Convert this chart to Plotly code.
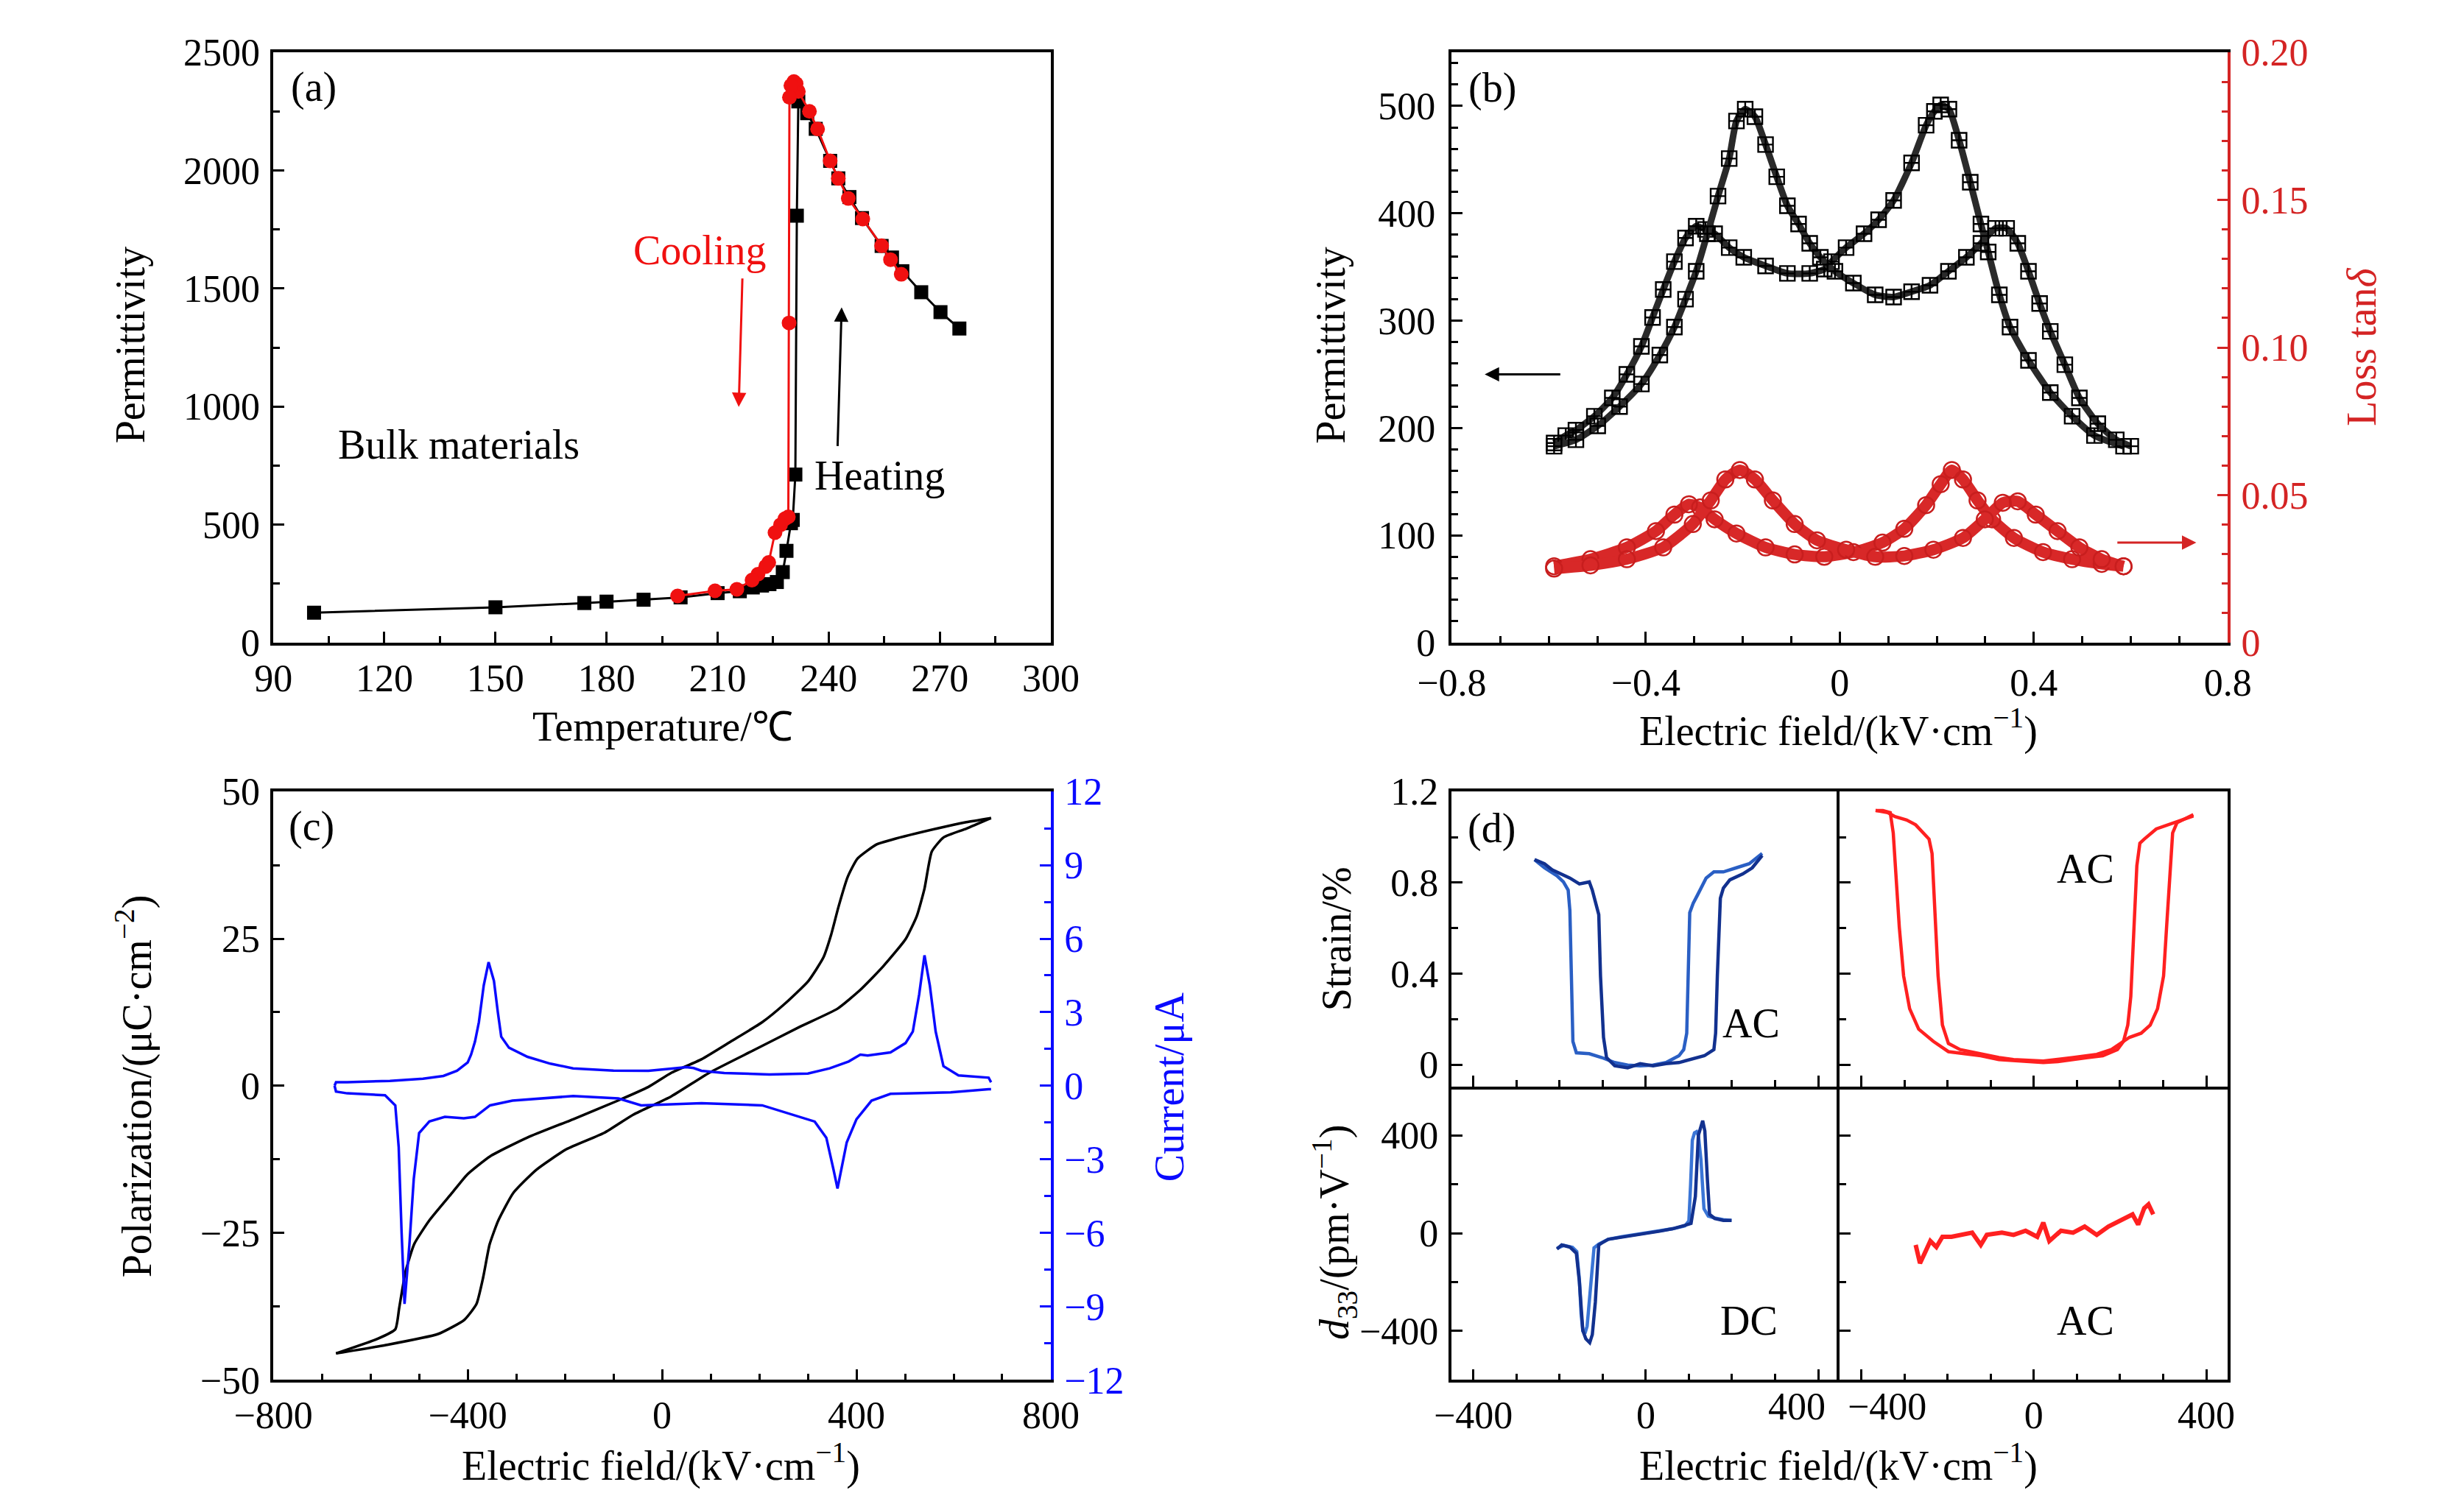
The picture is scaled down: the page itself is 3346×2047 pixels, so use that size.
import plotly.graph_objects as go

# ---------------- Panel (a): permittivity vs temperature ----------------
A_XTICKS = [90, 120, 150, 180, 210, 240, 270, 300]
A_YTICKS = [0, 500, 1000, 1500, 2000, 2500]
HEAT_T = [101, 150, 174, 180, 190, 200, 210, 216, 219.5, 222, 224, 226, 227.6, 228.6, 229.8, 230.3, 231, 231.4,
          231.8, 234.2, 236.5, 240.4, 242.6, 245.6, 249, 254.3, 257.1, 259.9, 265, 270.2, 275.3]
HEAT_P = [127, 150, 168, 174, 182, 192, 210, 218, 234, 242, 248, 257, 299, 389, 506, 520, 712, 1808,
          2292, 2242, 2176, 2040, 1966, 1887, 1798, 1680, 1631, 1573, 1484, 1400, 1330]
COOL_T = [259.6, 256.7, 254.3, 249.2, 245.3, 242.6, 240.4, 237.0, 234.8, 231.8, 231.2, 230.6, 229.8, 229.4,
          229.3, 229.1, 228.2, 227.0, 225.5, 223.8, 223.0, 220.9, 219.3, 215.2, 209.3, 199.2]
COOL_P = [1560, 1622, 1681, 1794, 1881, 1966, 2040, 2175, 2250, 2334, 2367, 2376, 2359, 2309,
          1354, 533, 525, 499, 466, 340, 323, 290, 265, 226, 220, 198]

# ---------------- Panel (b): permittivity & loss vs field ----------------
B_XTICKS = [-0.8, -0.4, 0, 0.4, 0.8]
B_YTICKS = [0, 100, 200, 300, 400, 500]
B_Y2TICKS = [0, 0.05, 0.10, 0.15, 0.20]
B_Y2LABELS = ["0", "0.05", "0.10", "0.15", "0.20"]
PERM1_E = [-0.589, -0.565, -0.544, -0.506, -0.469, -0.439, -0.409, -0.386, -0.364, -0.341, -0.318, -0.296,
           -0.277, -0.258, -0.228, -0.198, -0.153, -0.108, -0.062, -0.032, -0.017, 0.013, 0.05, 0.08, 0.111,
           0.148, 0.178, 0.195, 0.208, 0.225, 0.246, 0.269, 0.291, 0.306, 0.329, 0.351, 0.389, 0.434, 0.479,
           0.525, 0.585]
PERM1_V = [186, 193, 198, 211, 228, 250, 276, 303, 329, 355, 377, 388,
           385, 381, 368, 359, 351, 344, 344, 348, 355, 368, 381, 394, 412,
           447, 482, 495, 501, 497, 468, 429, 390, 364, 324, 294, 263, 233, 211,
           193, 183]
PERM2_E = [-0.589, -0.544, -0.499, -0.454, -0.409, -0.371, -0.341, -0.318, -0.296, -0.273, -0.251, -0.228,
           -0.213, -0.195, -0.175, -0.153, -0.130, -0.108, -0.085, -0.062, -0.040, -0.010, 0.028, 0.073,
           0.111, 0.148, 0.186, 0.224, 0.261, 0.291, 0.321, 0.344, 0.367, 0.389, 0.412, 0.434, 0.464,
           0.494, 0.532, 0.570, 0.600]
PERM2_V = [183, 189, 202, 220, 241, 268, 294, 320, 346, 381, 416, 451,
           486, 497, 490, 464, 434, 407, 390, 372, 359, 346, 335, 324,
           322, 327, 333, 346, 359, 372, 386, 386, 372, 346, 316, 290, 259,
           228, 204, 189, 183]
LOSS1_E = [-0.589, -0.514, -0.439, -0.379, -0.341, -0.311, -0.288, -0.258, -0.213, -0.153, -0.093, -0.032,
           0.028, 0.088, 0.133, 0.178, 0.208, 0.231, 0.254, 0.284, 0.314, 0.359, 0.419, 0.479, 0.540, 0.585]
LOSS1_V = [0.0259, 0.0283, 0.0323, 0.0378, 0.0434, 0.0469, 0.0458, 0.0418, 0.0370, 0.0323, 0.0299, 0.0291,
           0.0307, 0.0339, 0.0386, 0.0466, 0.0537, 0.0585, 0.0553, 0.0482, 0.0418, 0.0355, 0.0307, 0.0283,
           0.0267, 0.0259]
LOSS2_E = [-0.589, -0.514, -0.439, -0.364, -0.303, -0.266, -0.236, -0.206, -0.175, -0.138, -0.093, -0.047,
           0.013, 0.073, 0.133, 0.193, 0.254, 0.299, 0.336, 0.367, 0.404, 0.449, 0.494, 0.540, 0.585]
LOSS2_V = [0.0251, 0.0262, 0.0283, 0.0323, 0.0402, 0.0482, 0.0553, 0.0585, 0.0553, 0.0482, 0.0402, 0.0347,
           0.0315, 0.0291, 0.0294, 0.0315, 0.0355, 0.0418, 0.0474, 0.0479, 0.0434, 0.0378, 0.0323, 0.0283,
           0.0259]

# ---------------- Panel (c): P-E loop and current ----------------
C_XTICKS = [-800, -400, 0, 400, 800]
C_YTICKS = [-50, -25, 0, 25, 50]
C_Y2TICKS = [-12, -9, -6, -3, 0, 3, 6, 9, 12]
PE_DOWN_E = [677, 626, 565, 472, 441, 402, 382, 363, 348, 332, 301, 252, 206, 143, 81, 19, -28, -90, -183,
             -277, -354, -401, -432, -479, -510, -528, -541, -549, -585, -671]
PE_DOWN_P = [45.5, 44.8, 43.7, 41.8, 41.0, 38.6, 35.5, 30.4, 25.7, 21.8, 17.8, 13.9, 10.8, 7.6, 4.5, 2.2,
             -0.2, -2.5, -5.7, -8.8, -12.0, -15.1, -18.2, -22.9, -26.9, -31.6, -37.8, -41.4, -43.0, -45.5]
PE_UP_E = [-671, -570, -461, -407, -382, -368, -355, -337, -306, -259, -197, -119, -59, 19, 97, 190, 283,
           361, 408, 454, 501, 524, 540, 555, 579, 626, 677]
PE_UP_P = [-45.5, -44.1, -42.2, -39.8, -37.1, -32.5, -27.0, -22.9, -18.2, -14.3, -10.8, -8.0, -4.9, -1.8,
           2.2, 6.1, 10.0, 13.1, 16.3, 20.2, 24.9, 28.8, 33.5, 39.8, 42.2, 43.7, 45.5]
CUR_UP_E = [-674, -671, -648, -560, -492, -450, -422, -400, -393, -385, -377, -367, -357, -346, -338, -331,
            -315, -277, -230, -183, -100, -28, 20, 50, 65, 81, 128, 221, 300, 345, 384, 408, 423, 470, 501,
            516, 529, 540, 551, 563, 579, 610, 672, 677]
CUR_UP_I = [0.0, 0.14, 0.14, 0.2, 0.29, 0.4, 0.61, 0.95, 1.27, 1.8, 2.59, 4.09, 5.04, 4.28, 3.0, 2.0,
            1.55, 1.18, 0.9, 0.71, 0.62, 0.61, 0.7, 0.76, 0.72, 0.61, 0.52, 0.46, 0.5, 0.71, 0.99, 1.27,
            1.23, 1.36, 1.74, 2.21, 3.72, 5.32, 4.09, 2.21, 0.8, 0.42, 0.33, 0.14]
CUR_DOWN_E = [677, 672, 594, 470, 431, 400, 380, 369, 361, 353, 338, 314, 268, 206, 81, 3, -43, -90, -183,
              -308, -354, -385, -408, -447, -479, -500, -511, -520, -526, -530, -536, -542, -549, -570,
              -648, -671, -674]
CUR_DOWN_I = [-0.14, -0.14, -0.27, -0.33, -0.61, -1.37, -2.31, -3.44, -4.19, -3.44, -2.12, -1.46, -1.18,
              -0.8, -0.71, -0.76, -0.8, -0.52, -0.42, -0.61, -0.8, -1.27, -1.33, -1.27, -1.46, -1.93, -3.8,
              -6.5, -8.0, -8.9, -6.0, -2.5, -0.8, -0.39, -0.31, -0.24, 0.0]

# ---------------- Panel (d): strain and d33 ----------------
D_XTICKS = [-400, 0, 400]
D_XLABELS_LEFT = ["−400", "0", ""]      # the inner "400" is drawn nudged left (as in the reference)
D_XLABELS_RIGHT = ["", "0", "400"]      # the inner "−400" is drawn nudged right
D_INNER_LABELS = ["400", "−400"]
D_STRAIN_TICKS = [0, 0.4, 0.8, 1.2]
D_D33_TICKS = [-400, 0, 400]
SB_DOWN_E = [270, 240, 210, 180, 158, 140, 121, 110, 102, 99, 95, 88, 77, 47, 17, -13, -42, -72, -102, -131,
             -161, -169, -172, -176, -180, -191, -206, -221, -235, -258]
SB_DOWN_S = [0.928, 0.883, 0.865, 0.847, 0.847, 0.820, 0.749, 0.709, 0.668, 0.390, 0.138, 0.066, 0.039,
             0.009, -0.002, -0.005, -0.002, 0.009, 0.031, 0.048, 0.052, 0.102, 0.390, 0.677, 0.767, 0.803,
             0.830, 0.847, 0.865, 0.901]
SB_UP_E = [-258, -235, -217, -198, -176, -154, -131, -124, -109, -105, -98, -91, -72, -42, -13, 17, 47, 77,
           106, 136, 158, 162, 166, 173, 180, 195, 225, 247, 270]
SB_UP_S = [0.901, 0.883, 0.856, 0.838, 0.820, 0.794, 0.803, 0.767, 0.659, 0.390, 0.120, 0.031, -0.005,
           -0.014, 0.004, -0.005, 0.004, 0.009, 0.022, 0.039, 0.066, 0.138, 0.390, 0.731, 0.776, 0.812,
           0.838, 0.865, 0.919]
SR_DOWN_E = [370, 339, 311, 284, 256, 246, 239, 232, 225, 218, 208, 194, 160, 125, 91, 56, 22, -12, -47, -81,
             -123, -157, -198, -233, -267, -288, -302, -312, -319, -326, -333, -350, -367]
SR_DOWN_S = [1.093, 1.072, 1.054, 1.036, 0.991, 0.973, 0.874, 0.569, 0.300, 0.174, 0.102, 0.066, 0.039,
             0.031, 0.022, 0.013, 0.009, 0.013, 0.016, 0.022, 0.039, 0.048, 0.057, 0.102, 0.156, 0.246,
             0.390, 0.605, 0.838, 1.018, 1.108, 1.117, 1.117]
SR_UP_E = [-367, -339, -322, -295, -274, -253, -243, -236, -229, -222, -212, -198, -171, -123, -81, -47, 22,
           91, 146, 180, 201, 222, 249, 270, 287, 301, 308, 315, 322, 332, 353, 370]
SR_UP_S = [1.117, 1.108, 1.090, 1.075, 1.054, 1.009, 0.991, 0.928, 0.659, 0.390, 0.174, 0.093, 0.066, 0.048,
           0.031, 0.022, 0.016, 0.031, 0.045, 0.066, 0.093, 0.120, 0.138, 0.174, 0.246, 0.390, 0.605,
           0.838, 1.018, 1.063, 1.081, 1.099]
DB_1_E = [-206, -190, -170, -160, -154, -150, -146, -141, -136, -130, -120, -109, -87, -57, -27, 2, 32, 62,
          91, 100, 104, 108, 113, 118, 122, 128, 135, 145, 160, 180, 199]
DB_1_D = [-62, -50, -58, -75, -190, -330, -400, -410, -380, -250, -60, -45, -25, -15, -7, 2, 10, 18,
          30, 50, 200, 380, 410, 415, 400, 300, 100, 70, 62, 55, 52]
DB_2_E = [199, 180, 160, 148, 143, 137, 132, 127, 122, 115, 105, 91, 62, 32, 2, -27, -57, -87, -102, -109,
          -117, -124, -130, -135, -139, -146, -154, -161, -176, -195, -206]
DB_2_D = [52, 52, 60, 77, 218, 418, 460, 430, 400, 150, 40, 32, 18, 8, 0, -8, -16, -25, -40, -48,
          -282, -415, -448, -440, -432, -398, -198, -82, -57, -48, -65]
DR_E = [-274, -264, -253, -240, -226, -212, -191, -171, -143, -123, -109, -74, -47, -19, 8, 22, 36, 63, 91,
        118, 146, 173, 201, 229, 242, 256, 266, 277]
DR_D = [-48, -123, -82, -32, -57, -15, -15, -7, 2, -48, -7, 2, -7, 10, -15, 43, -32, 10, 2,
        27, -7, 27, 52, 77, 35, 102, 118, 77]

# ---------------- layout helpers ----------------
W, H = 3346, 2047


def px(x):
    return x / W


def py(y):
    return 1 - y / H


FONT = "Liberation Serif"
TICK = 52
TITLE = 56
RED_A = "#f01010"
RED_B = "#d82828"
BLUE_C = "#0a0aff"

XA = [px(318), px(1404)]
XB = [px(1964), px(3048)]
XDL = [px(1964), px(2506)]
XDR = [px(2506), px(3048)]
YAB = [py(861), py(36)]
YCD = [py(1891), py(1069)]
YDT = [py(1481), py(1069)]
YDB = [py(1891), py(1481)]


def ax(color="black", minor=None, standoff=0, **kw):
    d = dict(showgrid=False, zeroline=False, showline=True, linecolor=color, linewidth=3.5,
             ticks="inside", ticklen=15, tickwidth=3, tickcolor=color, mirror=True,
             tickfont=dict(family=FONT, size=TICK, color=color), ticklabelstandoff=standoff)
    if minor is not None:
        d["minor"] = dict(ticks="inside", ticklen=9, tickwidth=3, tickcolor=color, dtick=minor)
    d.update(kw)
    return d


def xax(standoff=0, **kw):
    return ax(standoff=standoff, **kw)


def yax(standoff=4, **kw):
    return ax(standoff=standoff, **kw)


fig = go.Figure()

# (a)
fig.add_trace(go.Scatter(x=HEAT_T, y=HEAT_P, mode="lines+markers", xaxis="x", yaxis="y",
                         line=dict(color="black", width=3),
                         marker=dict(symbol="square", size=19, color="black")))
fig.add_trace(go.Scatter(x=COOL_T, y=COOL_P, mode="lines+markers", xaxis="x", yaxis="y",
                         line=dict(color=RED_A, width=3),
                         marker=dict(symbol="circle", size=20, color=RED_A)))

# (b)
for e, v in [(PERM1_E, PERM1_V), (PERM2_E, PERM2_V)]:
    fig.add_trace(go.Scatter(x=e, y=v, mode="lines+markers", xaxis="x2", yaxis="y2",
                             line=dict(color="#2a2a2a", width=9, shape="spline", smoothing=0.6),
                             marker=dict(symbol="square-cross-open", size=20, color="black",
                                         line=dict(width=2.4, color="black"))))
for e, v in [(LOSS1_E, LOSS1_V), (LOSS2_E, LOSS2_V)]:
    fig.add_trace(go.Scatter(x=e, y=v, mode="lines+markers", xaxis="x2", yaxis="y3",
                             line=dict(color=RED_B, width=15, shape="spline", smoothing=0.6),
                             marker=dict(symbol="circle-open", size=22, color="#c81e1e",
                                         line=dict(width=2.5, color="#c81e1e"))))

# (c)
for e, p in [(PE_DOWN_E, PE_DOWN_P), (PE_UP_E, PE_UP_P)]:
    fig.add_trace(go.Scatter(x=e, y=p, mode="lines", xaxis="x3", yaxis="y4",
                             line=dict(color="black", width=3.5, shape="spline", smoothing=0.5)))
for e, i in [(CUR_UP_E, CUR_UP_I), (CUR_DOWN_E, CUR_DOWN_I)]:
    fig.add_trace(go.Scatter(x=e, y=i, mode="lines", xaxis="x3", yaxis="y5",
                             line=dict(color=BLUE_C, width=3.5)))

# (d)
fig.add_trace(go.Scatter(x=SB_DOWN_E, y=SB_DOWN_S, mode="lines", xaxis="x4", yaxis="y6",
                         line=dict(color="#2a5fc4", width=4.5)))
fig.add_trace(go.Scatter(x=SB_UP_E, y=SB_UP_S, mode="lines", xaxis="x4", yaxis="y6",
                         line=dict(color="#12318f", width=4.5)))
fig.add_trace(go.Scatter(x=SR_DOWN_E, y=SR_DOWN_S, mode="lines", xaxis="x5", yaxis="y7",
                         line=dict(color="#ff2020", width=4.5)))
fig.add_trace(go.Scatter(x=SR_UP_E, y=SR_UP_S, mode="lines", xaxis="x5", yaxis="y7",
                         line=dict(color="#ff2020", width=4.5)))
fig.add_trace(go.Scatter(x=DB_1_E, y=DB_1_D, mode="lines", xaxis="x6", yaxis="y8",
                         line=dict(color="#3a75d6", width=4.5)))
fig.add_trace(go.Scatter(x=DB_2_E, y=DB_2_D, mode="lines", xaxis="x6", yaxis="y8",
                         line=dict(color="#12318f", width=4.5)))
fig.add_trace(go.Scatter(x=DR_E, y=DR_D, mode="lines", xaxis="x7", yaxis="y9",
                         line=dict(color="#ff2020", width=6)))

layout = dict(
    width=W, height=H, margin=dict(l=0, r=0, t=0, b=0),
    paper_bgcolor="white", plot_bgcolor="white", showlegend=False,
    font=dict(family=FONT, size=TICK, color="black"),
    # (a)
    xaxis=xax(domain=XA, anchor="y", range=[90, 300], tickvals=A_XTICKS, minor=15),
    yaxis=yax(domain=YAB, anchor="x", range=[0, 2500], tickvals=A_YTICKS, minor=250),
    # (b)
    xaxis2=xax(standoff=6, domain=XB, anchor="y2", range=[-0.8, 0.8], tickvals=B_XTICKS, minor=0.1),
    yaxis2=yax(standoff=8, domain=YAB, anchor="x2", range=[0, 550], tickvals=B_YTICKS, minor=20,
               mirror=False),
    yaxis3=yax(color="#d42424", overlaying="y2", side="right", anchor="x2", range=[0, 0.2],
               tickvals=B_Y2TICKS, ticktext=B_Y2LABELS, minor=0.01, mirror=False),
    # (c)
    xaxis3=xax(domain=XA, anchor="y4", range=[-800, 800], tickvals=C_XTICKS, minor=100),
    yaxis4=yax(domain=YCD, anchor="x3", range=[-50, 50], tickvals=C_YTICKS, minor=12.5, mirror=False),
    yaxis5=yax(color=BLUE_C, overlaying="y4", side="right", anchor="x3", range=[-12, 12],
               tickvals=C_Y2TICKS, minor=1.5, mirror=False),
    # (d)  inner frame lines are drawn once only (by the right column / top row axes)
    xaxis4=xax(domain=XDL, anchor="y6", range=[-450, 450], tickvals=D_XTICKS, minor=100,
               showticklabels=False),
    yaxis6=yax(domain=YDT, anchor="x4", range=[-0.096, 1.2], tickvals=D_STRAIN_TICKS, minor=0.2,
               mirror=False),
    xaxis5=xax(domain=XDR, anchor="y7", range=[-450, 450], tickvals=D_XTICKS, minor=100,
               showticklabels=False),
    yaxis7=yax(domain=YDT, anchor="x5", range=[-0.096, 1.2], tickvals=D_STRAIN_TICKS, minor=0.2,
               showticklabels=False),
    xaxis6=xax(domain=XDL, anchor="y8", range=[-450, 450], tickvals=D_XTICKS, ticktext=D_XLABELS_LEFT,
               minor=100, mirror=False),
    yaxis8=yax(domain=YDB, anchor="x6", range=[-600, 600], tickvals=D_D33_TICKS, minor=200, mirror=False),
    xaxis7=xax(domain=XDR, anchor="y9", range=[-450, 450], tickvals=D_XTICKS, ticktext=D_XLABELS_RIGHT,
               minor=100, mirror=False),
    yaxis9=yax(domain=YDB, anchor="x7", range=[-600, 600], tickvals=D_D33_TICKS, minor=200,
               showticklabels=False),
)
fig.update_layout(**layout)

ann = []


def txt(text, x, y, xref="paper", yref="paper", size=TITLE, color="black", angle=0, xanchor="center"):
    ann.append(dict(text=text, x=x, y=y, xref=xref, yref=yref, showarrow=False, textangle=angle,
                    xanchor=xanchor, yanchor="middle", font=dict(family=FONT, size=size, color=color)))


def arrow(x, y, axx, ayy, xref, yref, color):
    ann.append(dict(text="", x=x, y=y, ax=axx, ay=ayy, xref=xref, yref=yref, axref=xref, ayref=yref,
                    showarrow=True, arrowhead=2, arrowsize=1.3, arrowwidth=3, arrowcolor=color))


# axis titles
txt("Temperature/℃", px(862), py(978))
txt("Permittivity", px(118), py(445), angle=-90)
txt("Electric field/(kV·cm<sup>−1</sup>)", px(2504), py(980))
txt("Permittivity", px(1794), py(445), angle=-90)
txt("Loss tan<i>δ</i>", px(3234), py(448), angle=-90, color="#d42424")
txt("Electric field/(kV·cm<sup>−1</sup>)", px(859), py(2007))
txt("Polarization/(μC·cm<sup>−2</sup>)", px(124), py(1481), angle=-90)
txt("Current/μA", px(1569), py(1481), angle=-90, color=BLUE_C)
txt("Electric field/(kV·cm<sup>−1</sup>)", px(2504), py(2007))
txt("Strain/%", px(1804), py(1275), angle=-90)
txt("<i>d</i><sub>33</sub>/(pm·V<sup>−1</sup>)", px(1800), py(1685), angle=-90)

# inner x tick labels of panel (d), nudged apart as in the reference
txt(D_INNER_LABELS[0], px(2446), py(1928), size=TICK)
txt(D_INNER_LABELS[1], px(2572), py(1928), size=TICK)

# panel (a) texts
txt("(a)", 101, 2351, "x", "y")
txt("Cooling", 205.1, 1663, "x", "y", color=RED_A)
txt("Bulk materials", 140.1, 840, "x", "y")
txt("Heating", 253.8, 707, "x", "y")
arrow(215.7, 998, 216.7, 1547, "x", "y", RED_A)
arrow(243.5, 1420, 242.4, 828, "x", "y", "black")

# panel (b)
txt("(b)", -0.717, 517, "x2", "y2")
arrow(-0.732, 250, -0.574, 250, "x2", "y2", "black")
arrow(0.735, 93.2, 0.570, 93.2, "x2", "y2", "#d42424")

# panel (c)
txt("(c)", -722, 44.1, "x3", "y4")

# panel (d)
txt("(d)", -358, 1.036, "x4", "y6")
txt("AC", 244, 0.183, "x4", "y6")
txt("AC", 120, 0.861, "x5", "y7")
txt("DC", 240, -357, "x6", "y8")
txt("AC", 120, -357, "x7", "y9")

fig.update_layout(annotations=ann)
fig.write_html("out.html")
